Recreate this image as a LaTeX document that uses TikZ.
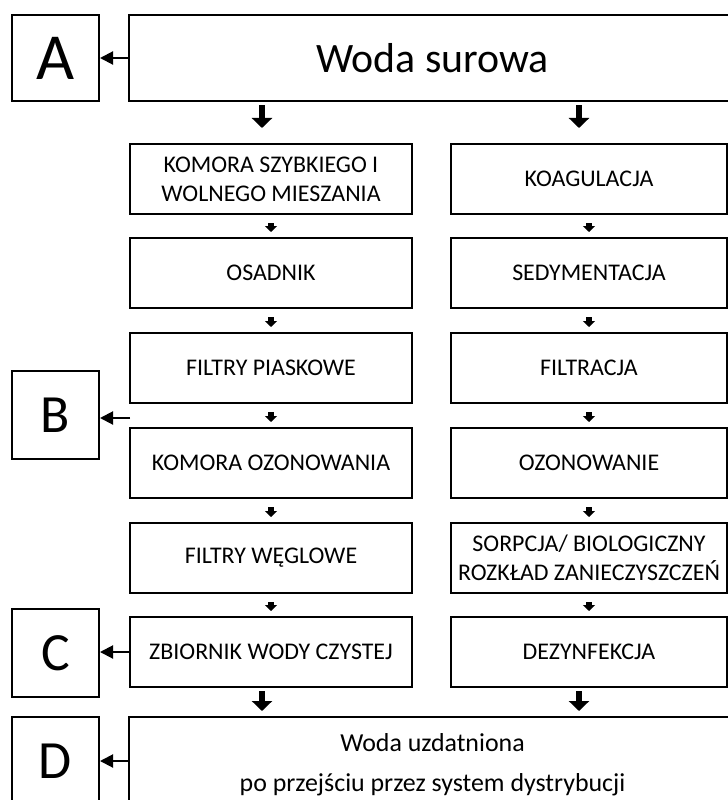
\documentclass[tikz,border=0pt]{standalone}
\usepackage{fontspec}
\setmainfont{Carlito}
\usetikzlibrary{arrows.meta}

\begin{document}
\begin{tikzpicture}[x=1bp,y=-1bp]
\tikzset{Etap/.style = {draw, line width=2bp, minimum width=282bp, minimum height=70bp, inner sep=0pt, align=center, font=\fontsize{24}{29}\selectfont}}
\tikzset{Woda/.style = {draw, line width=2bp, minimum width=607bp, inner sep=0pt, align=center}}
\tikzset{Litera/.style = {draw, line width=2bp, minimum width=87bp, minimum height=88bp, inner sep=0pt, font=\fontsize{54}{54}\selectfont}}
\tikzset{strzalka/.style = {line width=2bp, -{Triangle[length=13bp,width=13bp]}}}
\tikzset{gruba/.style = {line width=6bp, -{Triangle[length=10bp,width=20bp]}, shorten <=3bp, shorten >=15bp}}
\tikzset{mala/.style = {line width=6bp, -{Triangle[length=6bp,width=12bp]}, shorten <=8bp, shorten >=5bp}}

\useasboundingbox (0,0) rectangle (728,800);
\clip (0,0) rectangle (728,800);

\node[Woda, minimum height=86bp, font=\fontsize{42}{42}\selectfont] (surowa) at (432.5,58) {Woda surowa};
\node[Litera, minimum height=86bp, font=\fontsize{66}{66}\selectfont] (A) at (55.5,58) {A};

% linia technologiczna
\node[Etap] (k1) at (271,179) {KOMORA SZYBKIEGO I\\WOLNEGO MIESZANIA};
\node[Etap] (k2) at (271,273) {OSADNIK};
\node[Etap] (k3) at (271,368) {FILTRY PIASKOWE};
\node[Etap] (k4) at (271,463) {KOMORA OZONOWANIA};
\node[Etap] (k5) at (271,558) {FILTRY WĘGLOWE};
\node[Etap] (k6) at (271,652) {ZBIORNIK WODY CZYSTEJ};

% procesy
\node[Etap, minimum width=276bp] (p1) at (589,179) {KOAGULACJA};
\node[Etap, minimum width=276bp] (p2) at (589,273) {SEDYMENTACJA};
\node[Etap, minimum width=276bp] (p3) at (589,368) {FILTRACJA};
\node[Etap, minimum width=276bp] (p4) at (589,463) {OZONOWANIE};
\node[Etap, minimum width=276bp] (p5) at (589,558) {SORPCJA/ BIOLOGICZNY\\ROZKŁAD ZANIECZYSZCZEŃ};
\node[Etap, minimum width=276bp] (p6) at (589,652) {DEZYNFEKCJA};

\node[Woda, minimum height=96bp, font=\fontsize{26}{40}\selectfont] (uzdatniona) at (432.5,765) {Woda uzdatniona\\po przejściu przez system dystrybucji};

\node[Litera] (B) at (55.5,415) {B};
\node[Litera] (C) at (55.5,653) {C};
\node[Litera] (D) at (55.5,761) {D};
\coordinate (wyjscieB) at (130,418);

\draw[gruba] ([xshift=-9bp]k1.north |- surowa.south) -- ([xshift=-9bp]k1.north);
\draw[gruba] ([xshift=-10bp]p1.north |- surowa.south) -- ([xshift=-10bp]p1.north);

\draw[mala] (k1) -- (k2);
\draw[mala] (k2) -- (k3);
\draw[mala] (k3) -- (k4);
\draw[mala] (k4) -- (k5);
\draw[mala] (k5) -- (k6);
\draw[mala] (p1) -- (p2);
\draw[mala] (p2) -- (p3);
\draw[mala] (p3) -- (p4);
\draw[mala] (p4) -- (p5);
\draw[mala] (p5) -- (p6);

\draw[gruba, shorten >=5bp] ([xshift=-9bp]k6.south) -- ([xshift=-9bp]k6.south |- uzdatniona.north);
\draw[gruba, shorten >=5bp] ([xshift=-10bp]p6.south) -- ([xshift=-10bp]p6.south |- uzdatniona.north);

\draw[strzalka] (surowa.west) -- (A.east);
\draw[strzalka] (wyjscieB) -- (B.east |- wyjscieB);
\draw[strzalka] (k6.west) -- (C.east |- k6.west);
\draw[strzalka] (uzdatniona.west |- D.east) -- (D.east);

\end{tikzpicture}
\end{document}
